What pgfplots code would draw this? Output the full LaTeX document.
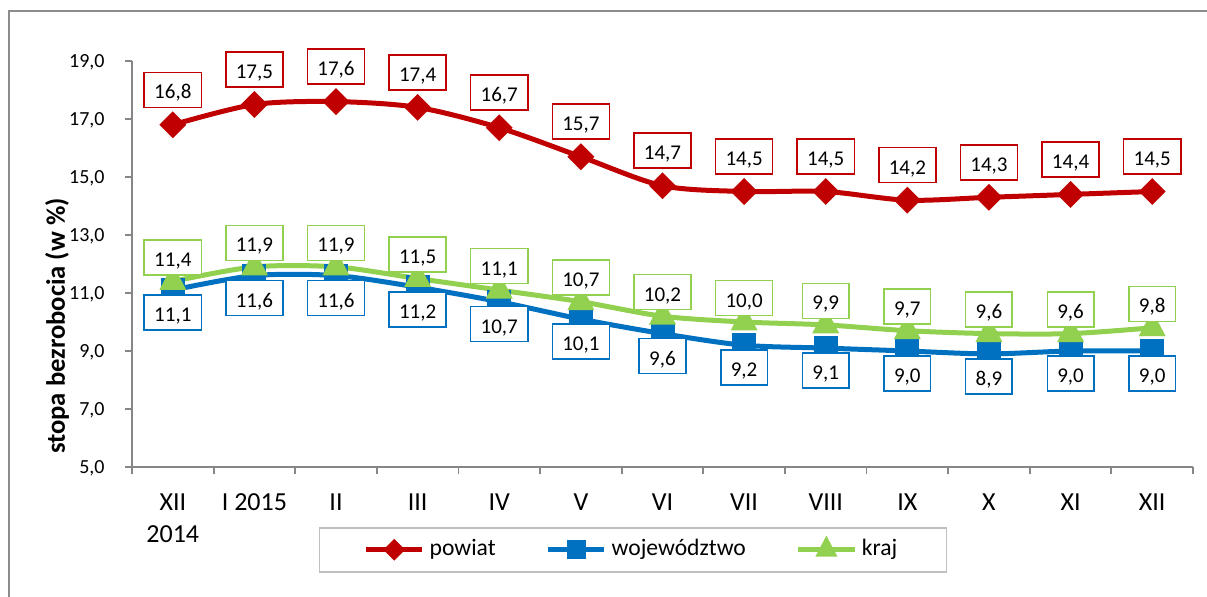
\documentclass[border=0pt]{standalone}
\usepackage{fontspec}
\setmainfont{Carlito}
\usepackage{pgfplots}
\pgfplotsset{compat=1.18}
\definecolor{cred}{HTML}{C00000}
\definecolor{cblue}{HTML}{0070C0}
\definecolor{cgreen}{HTML}{92D050}
\definecolor{axgray}{HTML}{868686}
\definecolor{frgray}{HTML}{8C8C8C}
\definecolor{lggray}{HTML}{BFBFBF}
\tikzset{
  lbl/.style={font=\fontsize{10.5}{12}\selectfont, text=black, fill=white,
    line width=0.75pt, inner xsep=5pt, inner ysep=0pt, minimum height=17.5pt,
    text height=9pt, text depth=0pt, anchor=center}
}
\pgfplotsset{
  legmark/.style={legend image code/.code={\draw[mark repeat=2,mark phase=2,##1,mark size=#1] plot coordinates {(0pt,0pt)(14pt,0pt)(28pt,0pt)};}}
}
\begin{document}
\begin{tikzpicture}
\useasboundingbox (0,0) rectangle (603.5pt,-298pt);
\draw[frgray, line width=0.9pt] (4.5pt,-5.5pt) rectangle (640pt,-330pt);
\begin{axis}[
  at={(66pt,-233.5pt)}, anchor=south west,
  width=530.5pt, height=203pt, scale only axis,
  clip=false,
  xmin=-0.5, xmax=12.5, ymin=5, ymax=19,
  ytick={5,7,...,19},
  xtick={-0.5,0.5,...,12.5}, xticklabels={},
  extra x ticks={0,1,...,12},
  extra x tick labels={{XII\\2014},{I 2015},II,III,IV,V,VI,VII,VIII,IX,X,XI,XII},
  extra x tick style={major tick length=0pt, tick style={draw=none}},
  xticklabel style={font=\fontsize{13}{16}\selectfont, align=center, anchor=north, inner sep=0pt, yshift=-13pt},
  yticklabel style={font=\fontsize{10}{12}\selectfont, anchor=east, inner sep=0pt, xshift=-10pt, text depth=0pt},
  axis x line*=bottom, axis y line*=left,
  axis line style={axgray, line width=0.9pt},
  tick align=outside, major tick length=3.5pt,
  tick style={axgray, line width=0.9pt},
  /pgf/number format/fixed, /pgf/number format/fixed zerofill,
  /pgf/number format/precision=1, /pgf/number format/use comma,
  /pgf/number format/assume math mode=true,
  ylabel={stopa bezrobocia (w \%)},
  ylabel style={font=\bfseries\fontsize{13.3}{16}\selectfont, at={(axis description cs:-0.0707,0.347)}, anchor=center},
  legend columns=3, legend cell align=left,
  legend style={at={(axis description cs:0.1762,-0.1478)}, anchor=north west,
    draw=lggray, line width=0.75pt, inner xsep=22pt, inner ysep=3.5pt,
    font=\fontsize{11.8}{14}\selectfont,
    nodes={inner xsep=2.5pt, inner ysep=2pt, text height=8.5pt, text depth=2.5pt},
    /tikz/every even column/.append style={column sep=22.5pt}},
]
\addplot[cred, line width=2.5pt, smooth, mark=square*, mark size=3.5pt,
  mark options={rotate=45, fill=cred, draw=none},
  legmark=2.6pt,
  nodes near coords, every node near coord/.append style={lbl, draw=cred, yshift=17.5pt}]
  coordinates {(0,16.8)(1,17.5)(2,17.6)(3,17.4)(4,16.7)(5,15.7)(6,14.7)(7,14.5)(8,14.5)(9,14.2)(10,14.3)(11,14.4)(12,14.5)};
\addlegendentry{powiat}
\addplot[cblue, line width=2.5pt, smooth, mark=square*, mark size=4.75pt,
  mark options={fill=cblue, draw=none},
  legmark=3.5pt,
  nodes near coords, every node near coord/.append style={lbl, draw=cblue, yshift=-11.25pt}]
  coordinates {(0,11.1)(1,11.6)(2,11.6)(3,11.2)(4,10.7)(5,10.1)(6,9.6)(7,9.2)(8,9.1)(9,9.0)(10,8.9)(11,9.0)(12,9.0)};
\addlegendentry{województwo}
\addplot[cgreen, line width=2.5pt, smooth, mark=triangle*, mark size=5.4pt,
  mark options={fill=cgreen, draw=none, yscale=1.1},
  legmark=4pt,
  nodes near coords, every node near coord/.append style={lbl, draw=cgreen, yshift=12pt}]
  coordinates {(0,11.4)(1,11.9)(2,11.9)(3,11.5)(4,11.1)(5,10.7)(6,10.2)(7,10.0)(8,9.9)(9,9.7)(10,9.6)(11,9.6)(12,9.8)};
\addlegendentry{kraj}
\end{axis}
\end{tikzpicture}
\end{document}
